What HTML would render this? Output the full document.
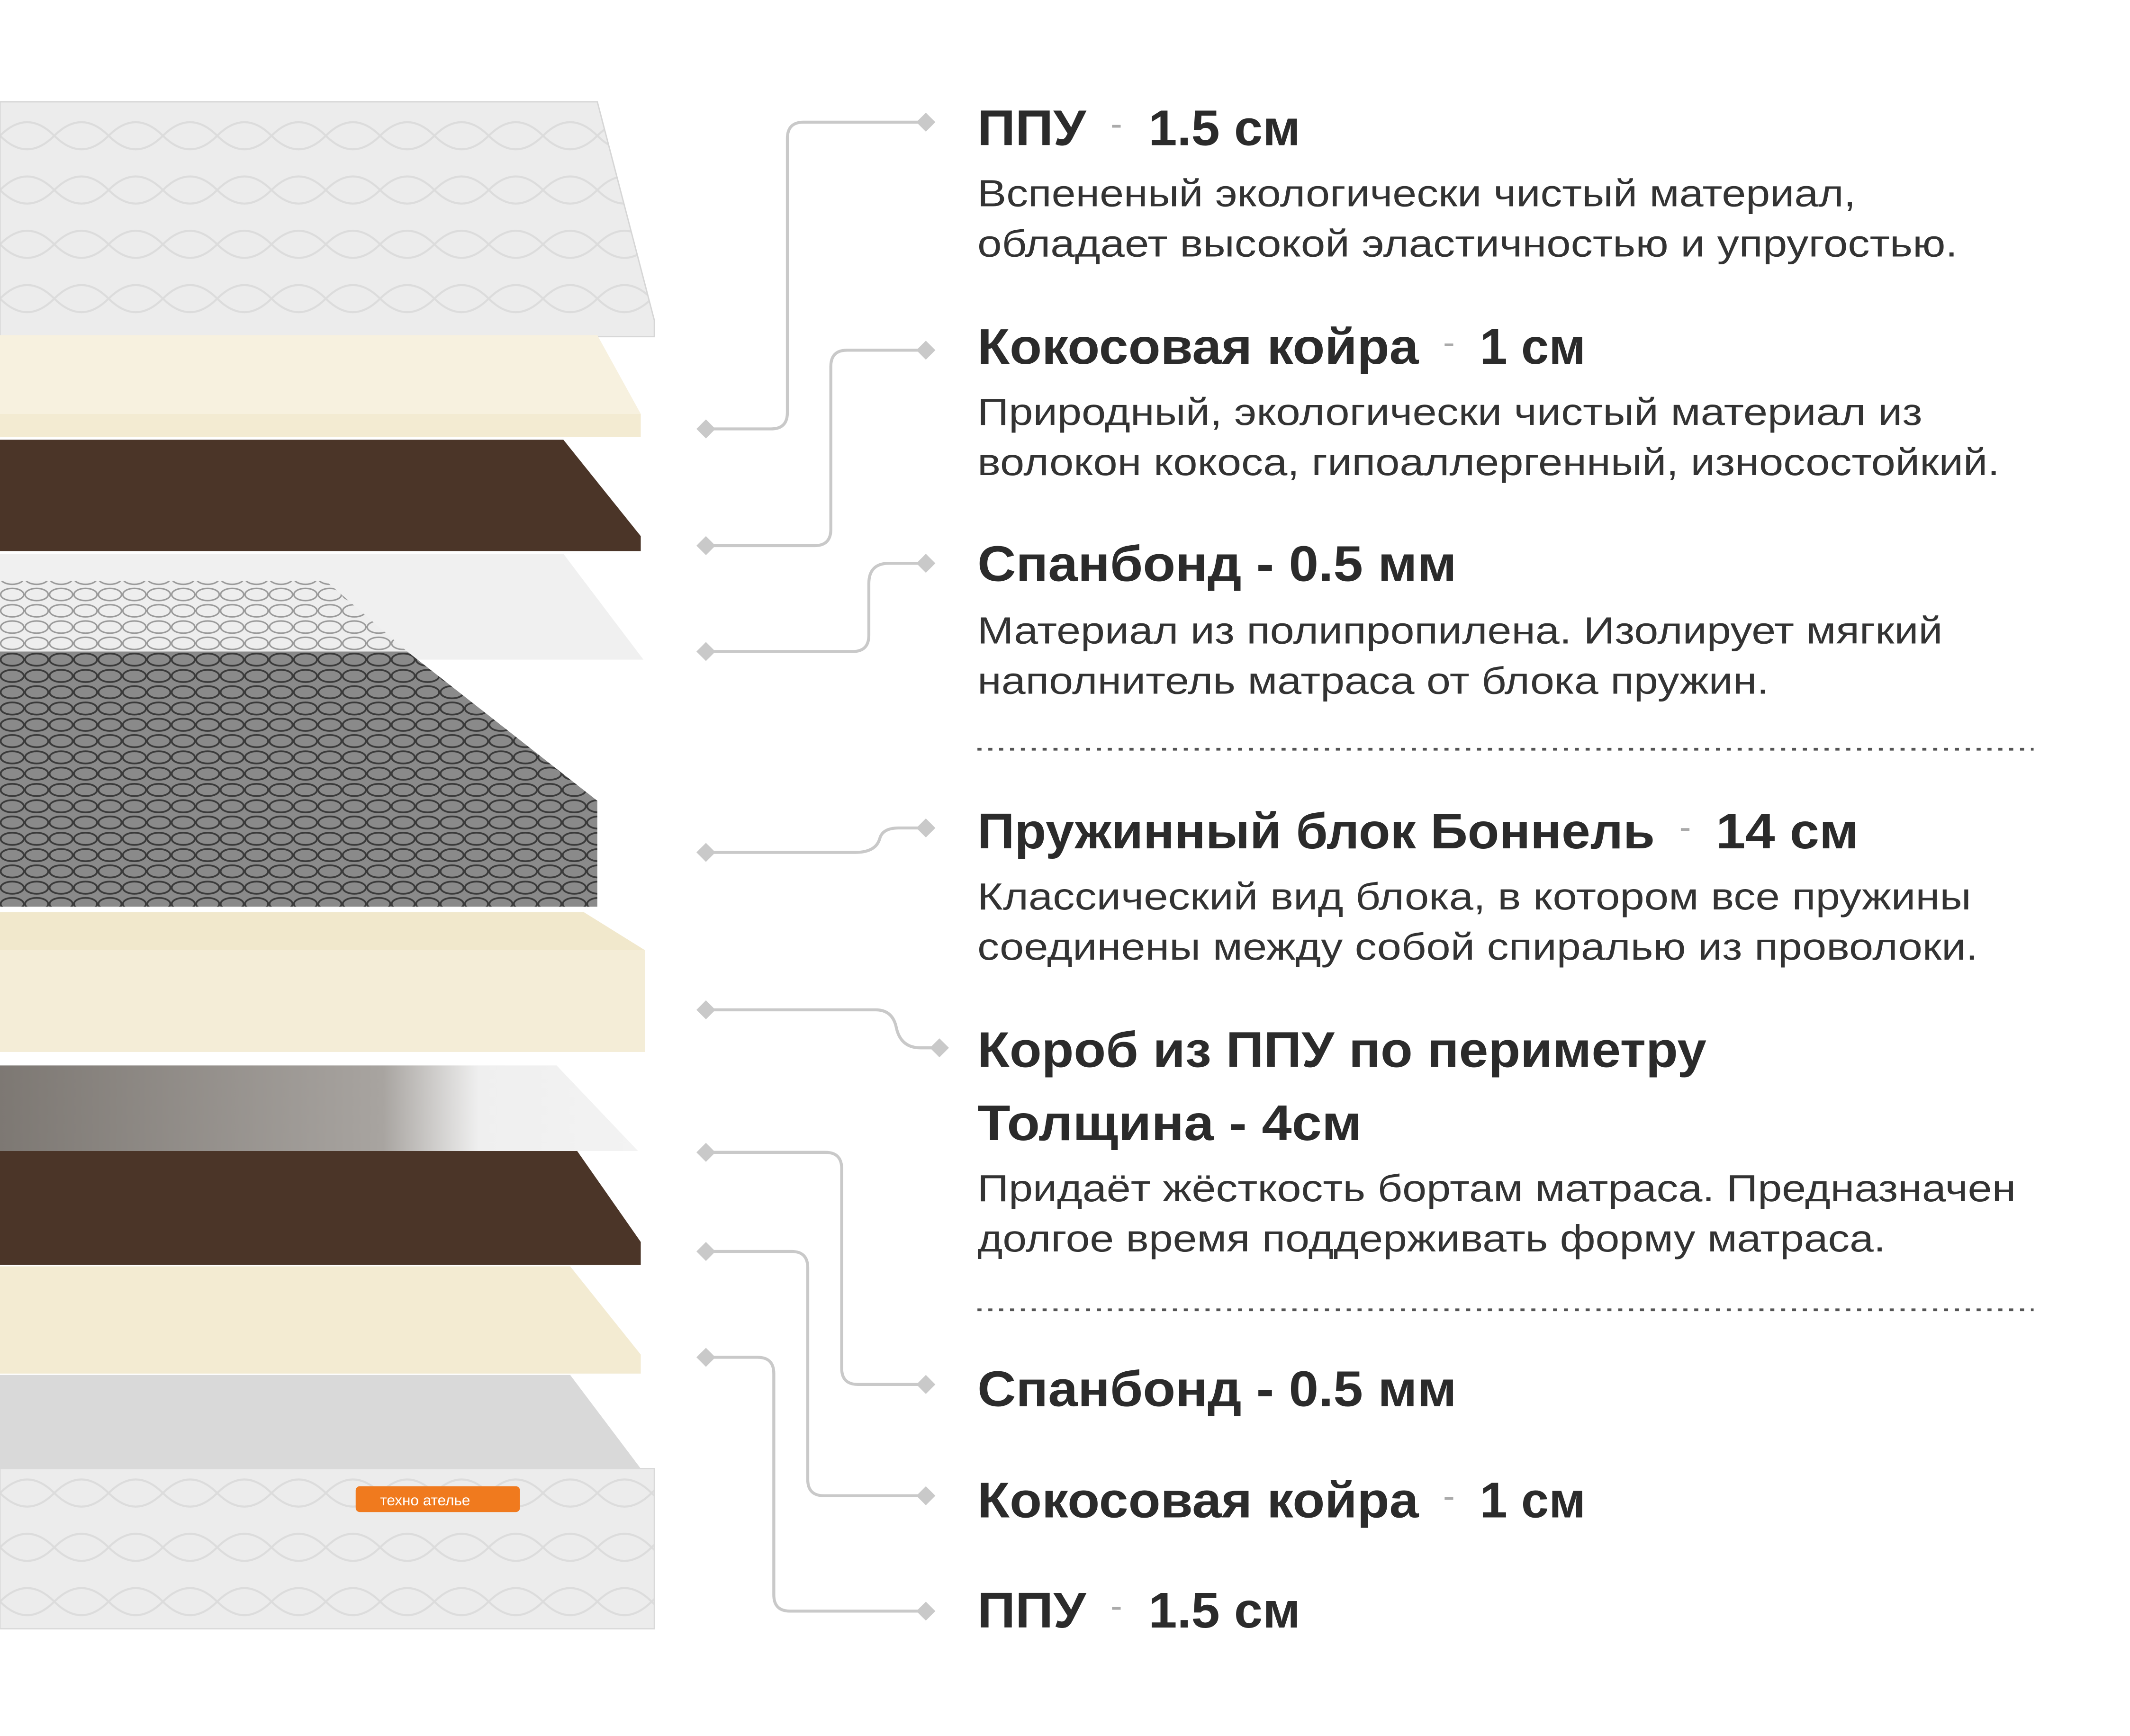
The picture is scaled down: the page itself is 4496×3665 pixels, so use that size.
<!DOCTYPE html>
<html><head><meta charset="utf-8"><style>
html,body{margin:0;padding:0;background:#fff;}
svg{display:block;}
.h{font-family:"Liberation Sans",sans-serif;font-weight:bold;font-size:37px;fill:#2b2b2b;}
.d{font-family:"Liberation Sans",sans-serif;font-size:28px;fill:#333;}
.dash{font-family:"Liberation Sans",sans-serif;font-size:26px;fill:#aaa;}
.c{fill:none;stroke:#c9c9c9;stroke-width:2.2;}
.dm{fill:#c9c9c9;}
</style></head><body>
<svg width="4496" height="3665" viewBox="0 0 1569 1279" preserveAspectRatio="none" xmlns="http://www.w3.org/2000/svg">
<defs>
<pattern id="sp" width="18" height="12" patternUnits="userSpaceOnUse">
<rect width="18" height="12" fill="#8a8a8a"/>
<ellipse cx="9" cy="6" rx="8.5" ry="4.5" fill="none" stroke="#3a3a3a" stroke-width="1.3"/>
</pattern>
<pattern id="spl" width="18" height="12" patternUnits="userSpaceOnUse">
<rect width="18" height="12" fill="#eee"/>
<ellipse cx="9" cy="6" rx="8.5" ry="4.5" fill="none" stroke="#999" stroke-width="1.1"/>
</pattern>
<pattern id="q" width="40" height="40" patternUnits="userSpaceOnUse">
<rect width="40" height="40" fill="#ececec"/>
<path d="M0 20 Q20 0 40 20 Q20 40 0 20" fill="none" stroke="#dcdcdc" stroke-width="1.5"/>
</pattern>
<linearGradient id="sb" x1="0" x2="1"><stop offset="0" stop-color="#7d7873"/><stop offset="0.6" stop-color="#a8a4a0"/><stop offset="0.75" stop-color="#efefef"/><stop offset="1" stop-color="#f3f3f3"/></linearGradient>
</defs>
<polygon points="0,75 440,75 482,236 482,248 0,248" fill="url(#q)" stroke="#d6d6d6"/>
<polygon points="0,247 440,247 472,305 472,322 0,322" fill="#f3ebd2"/>
<polygon points="0,247 440,247 472,305 0,305" fill="#f7f1df"/>
<polygon points="0,324 415,324 472,395 472,406 0,406" fill="#4b3528"/>
<polygon points="0,408 415,408 474,486 0,486" fill="#f0f0f0"/>
<polygon points="0,428 240,428 300,480 0,480" fill="url(#spl)"/>
<polygon points="0,480 300,480 440,590 440,668 0,668" fill="url(#sp)"/>
<polygon points="0,686 250,686 300,700 0,700" fill="#ececec"/>
<polygon points="0,672 430,672 475,700 475,775 0,775" fill="#f1e8cc"/>
<polygon points="0,700 475,700 475,775 0,775" fill="#f4edd7"/>
<polygon points="0,812 400,812 472,915 472,932 0,932" fill="#4b3528"/>
<polygon points="0,785 410,785 470,848 0,848" fill="url(#sb)"/>
<polygon points="0,933 420,933 472,998 472,1012 0,1012" fill="#f3ebd2"/>
<polygon points="0,1013 420,1013 472,1082 0,1082" fill="#d9d9d9"/>
<rect x="0" y="1082" width="482" height="118" fill="url(#q)" stroke="#d9d9d9"/>
<rect x="262" y="1095" width="121" height="19" rx="3" fill="#f07a1e"/>
<text x="280" y="1109" font-family="Liberation Sans,sans-serif" font-size="11" fill="#fff">техно ателье</text>

<path class="c" d="M520 316 H568 Q580 316 580 304 V102 Q580 90 592 90 H682"/>
<path class="c" d="M520 402 H600 Q612 402 612 390 V270 Q612 258 624 258 H682"/>
<path class="c" d="M520 480 H628 Q640 480 640 468 V430 Q640 415 655 415 H682"/>
<path class="c" d="M520 628 H630 Q645 628 648 618 Q650 610 662 610 H682"/>
<path class="c" d="M520 744 H645 Q657 744 660 756 Q663 772 678 772 H692"/>
<path class="c" d="M520 849 H608 Q620 849 620 861 V1008 Q620 1020 632 1020 H682"/>
<path class="c" d="M520 922 H583 Q595 922 595 934 V1090 Q595 1102 607 1102 H682"/>
<path class="c" d="M520 1000 H558 Q570 1000 570 1012 V1175 Q570 1187 582 1187 H682"/>
<g class="dm">
<path d="M520 309l7 7-7 7-7-7z"/><path d="M682 83l7 7-7 7-7-7z"/>
<path d="M520 395l7 7-7 7-7-7z"/><path d="M682 251l7 7-7 7-7-7z"/>
<path d="M520 473l7 7-7 7-7-7z"/><path d="M682 408l7 7-7 7-7-7z"/>
<path d="M520 621l7 7-7 7-7-7z"/><path d="M682 603l7 7-7 7-7-7z"/>
<path d="M520 737l7 7-7 7-7-7z"/><path d="M692 765l7 7-7 7-7-7z"/>
<path d="M520 842l7 7-7 7-7-7z"/><path d="M682 1013l7 7-7 7-7-7z"/>
<path d="M520 915l7 7-7 7-7-7z"/><path d="M682 1095l7 7-7 7-7-7z"/>
<path d="M520 993l7 7-7 7-7-7z"/><path d="M682 1180l7 7-7 7-7-7z"/>
</g>
<line x1="720" y1="552" x2="1498" y2="552" stroke="#555" stroke-width="2" stroke-dasharray="3,5"/>
<line x1="720" y1="965" x2="1498" y2="965" stroke="#555" stroke-width="2" stroke-dasharray="3,5"/>

<text class="h" x="720" y="107" textLength="80" lengthAdjust="spacingAndGlyphs">ППУ</text><text class="dash" x="818" y="100">-</text><text class="h" x="846" y="107" textLength="112" lengthAdjust="spacingAndGlyphs">1.5 см</text>
<text class="d" x="720" y="152" textLength="647" lengthAdjust="spacingAndGlyphs">Вспененый экологически чистый материал,</text>
<text class="d" x="720" y="189" textLength="722" lengthAdjust="spacingAndGlyphs">обладает высокой эластичностью и упругостью.</text>
<text class="h" x="720" y="268" textLength="325" lengthAdjust="spacingAndGlyphs">Кокосовая койра</text><text class="dash" x="1063" y="261">-</text><text class="h" x="1090" y="268" textLength="78" lengthAdjust="spacingAndGlyphs">1 см</text>
<text class="d" x="720" y="313" textLength="696" lengthAdjust="spacingAndGlyphs">Природный, экологически чистый материал из</text>
<text class="d" x="720" y="350" textLength="753" lengthAdjust="spacingAndGlyphs">волокон кокоса, гипоаллергенный, износостойкий.</text>
<text class="h" x="720" y="428" textLength="353" lengthAdjust="spacingAndGlyphs">Спанбонд - 0.5 мм</text>
<text class="d" x="720" y="474" textLength="711" lengthAdjust="spacingAndGlyphs">Материал из полипропилена. Изолирует мягкий</text>
<text class="d" x="720" y="511" textLength="583" lengthAdjust="spacingAndGlyphs">наполнитель матраса от блока пружин.</text>
<text class="h" x="720" y="625" textLength="499" lengthAdjust="spacingAndGlyphs">Пружинный блок Боннель</text><text class="dash" x="1237" y="618">-</text><text class="h" x="1264" y="625" textLength="105" lengthAdjust="spacingAndGlyphs">14 см</text>
<text class="d" x="720" y="670" textLength="732" lengthAdjust="spacingAndGlyphs">Классический вид блока, в котором все пружины</text>
<text class="d" x="720" y="707" textLength="737" lengthAdjust="spacingAndGlyphs">соединены между собой спиралью из проволоки.</text>
<text class="h" x="720" y="786" textLength="537" lengthAdjust="spacingAndGlyphs">Короб из ППУ по периметру</text>
<text class="h" x="720" y="840" textLength="283" lengthAdjust="spacingAndGlyphs">Толщина - 4см</text>
<text class="d" x="720" y="885" textLength="765" lengthAdjust="spacingAndGlyphs">Придаёт жёсткость бортам матраса. Предназначен</text>
<text class="d" x="720" y="922" textLength="669" lengthAdjust="spacingAndGlyphs">долгое время поддерживать форму матраса.</text>
<text class="h" x="720" y="1036" textLength="353" lengthAdjust="spacingAndGlyphs">Спанбонд - 0.5 мм</text>
<text class="h" x="720" y="1118" textLength="325" lengthAdjust="spacingAndGlyphs">Кокосовая койра</text><text class="dash" x="1063" y="1111">-</text><text class="h" x="1090" y="1118" textLength="78" lengthAdjust="spacingAndGlyphs">1 см</text>
<text class="h" x="720" y="1199" textLength="80" lengthAdjust="spacingAndGlyphs">ППУ</text><text class="dash" x="818" y="1192">-</text><text class="h" x="846" y="1199" textLength="112" lengthAdjust="spacingAndGlyphs">1.5 см</text>
</svg>
</body></html>
